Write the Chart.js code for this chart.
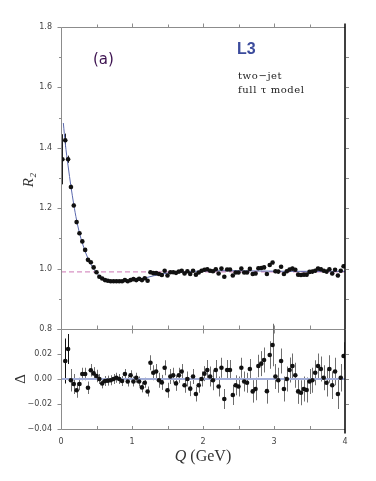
<!DOCTYPE html>
<html><head><meta charset="utf-8">
<script src="https://cdn.jsdelivr.net/npm/chart.js@4/dist/chart.umd.min.js"></script>
<style>
html,body{margin:0;padding:0;background:#fff;}
#wrap{position:relative;width:376px;height:481px;overflow:hidden;}
canvas{position:absolute;left:0;top:0;}
</style></head><body>
<div id="wrap"><canvas id="cTop" width="376" height="481"></canvas><canvas id="cBot" width="376" height="481"></canvas></div>
<script>
// ---------------- data ----------------
const qBins = [0.02,0.06,0.10,0.14,0.18,0.22,0.26,0.30,0.34,0.38,0.42,0.46,0.50,0.54,0.58,0.62,0.66,0.70,0.74,0.78,
0.82,0.86,0.90,0.94,0.98,1.02,1.06,1.10,1.14,1.18,1.22,1.26,1.30,1.34,1.38,1.42,1.46,1.50,1.54,1.58,
1.62,1.66,1.70,1.74,1.78,1.82,1.86,1.90,1.94,1.98,2.02,2.06,2.10,2.14,2.18,2.22,2.26,2.30,2.34,2.38,
2.42,2.46,2.50,2.54,2.58,2.62,2.66,2.70,2.74,2.78,2.82,2.86,2.90,2.94,2.98,3.02,3.06,3.10,3.14,3.18,
3.22,3.26,3.30,3.34,3.38,3.42,3.46,3.50,3.54,3.58,3.62,3.66,3.70,3.74,3.78,3.82,3.86,3.90,3.94,3.98];

const r2Values = [1.362,1.425,1.362,1.270,1.209,1.154,1.117,1.090,1.062,1.029,1.021,1.004,0.988,0.973,0.967,0.962,0.960,0.958,0.958,0.958,
0.958,0.958,0.962,0.958,0.962,0.965,0.962,0.966,0.962,0.968,0.960,0.988,0.985,0.985,0.982,0.979,0.993,0.977,0.988,0.988,
0.986,0.990,0.993,0.984,0.991,0.982,0.993,0.980,0.987,0.993,0.996,0.998,0.993,0.991,0.998,0.984,1.000,0.973,0.997,0.997,
0.977,0.987,0.987,1.000,0.987,0.987,0.999,0.982,0.984,1.001,1.002,1.004,0.982,1.012,1.020,0.991,0.990,1.006,0.982,0.991,
0.997,1.000,0.996,0.980,0.979,0.980,0.980,0.989,0.990,0.993,1.000,0.998,0.993,0.990,0.998,0.984,0.996,0.977,0.993,1.008];

const r2Errors = [0.083,0.022,0.012,0.008,0.006,0.005,0.004,0.003,0.003,0.003,0.003,0.003,0.003,0.003,0.003,0.003,0.003,0.003,0.003,0.003,
0.003,0.003,0.003,0.003,0.003,0.003,0.003,0.003,0.003,0.003,0.003,0.005,0.005,0.005,0.005,0.005,0.005,0.005,0.005,0.005,
0.005,0.005,0.005,0.005,0.005,0.005,0.005,0.005,0.005,0.005,0.005,0.005,0.005,0.005,0.005,0.005,0.005,0.005,0.005,0.005,
0.005,0.005,0.005,0.005,0.005,0.005,0.005,0.006,0.006,0.006,0.006,0.006,0.006,0.006,0.006,0.006,0.006,0.006,0.006,0.006,
0.006,0.006,0.006,0.006,0.006,0.006,0.006,0.006,0.006,0.006,0.006,0.006,0.006,0.006,0.006,0.006,0.006,0.006,0.006,0.006];

// fitted curve
const fitQ  = [0.033,0.06,0.10,0.14,0.18,0.22,0.26,0.30,0.34,0.38,0.42,0.46,0.50,0.54,0.58,0.62,0.70,0.80,0.90,1.00,1.10,1.20,1.30,1.40,1.50,1.60,1.80,2.00,2.40,2.80,3.20,3.60,4.00];
const fitR2 = [1.482,1.415,1.340,1.272,1.212,1.160,1.118,1.085,1.057,1.034,1.015,0.999,0.986,0.976,0.968,0.963,0.959,0.958,0.959,0.962,0.966,0.970,0.976,0.981,0.985,0.987,0.990,0.992,0.993,0.992,0.991,0.991,0.991];
const baselineQ  = [0, 4];
const baselineR2 = [0.989, 0.989];

const deltaValues = [null,0.0144,0.024,-0.001,-0.004,-0.009,-0.004,0.004,0.004,-0.007,0.007,0.0045,0.0024,0.0,-0.0035,-0.0016,-0.0013,-0.001,0.0,0.001,
0.0,-0.0016,0.004,-0.002,0.003,-0.002,0.001,-0.002,-0.0067,-0.003,-0.010,0.013,0.005,0.006,-0.001,-0.0027,0.009,-0.009,0.002,0.003,
-0.0035,0.003,0.006,-0.005,0.0,-0.0077,0.002,-0.012,-0.005,0.0,0.0043,0.0072,0.002,-0.001,0.0072,-0.006,0.009,-0.016,0.0072,0.0072,
-0.0128,-0.005,-0.006,0.009,-0.002,-0.003,0.008,-0.0099,-0.008,0.0104,0.0123,0.0152,-0.0097,0.0192,0.0272,0.002,-0.001,0.0144,-0.008,0.0,
0.0072,0.0104,0.003,-0.0099,-0.011,-0.008,-0.0088,-0.002,-0.001,0.005,0.0104,0.008,0.001,-0.003,0.008,-0.005,0.006,-0.012,0.001,0.0184];

const deltaErrors = [null,0.018,0.012,0.009,0.008,0.006,0.005,0.005,0.005,0.005,0.005,0.005,0.005,0.004,0.004,0.004,0.004,0.004,0.004,0.004,
0.004,0.004,0.004,0.004,0.004,0.004,0.004,0.004,0.004,0.004,0.004,0.006,0.006,0.006,0.006,0.006,0.006,0.006,0.006,0.006,
0.006,0.006,0.006,0.006,0.006,0.006,0.006,0.006,0.006,0.006,0.006,0.008,0.008,0.008,0.008,0.008,0.008,0.008,0.008,0.008,
0.008,0.008,0.008,0.008,0.008,0.008,0.008,0.009,0.009,0.009,0.010,0.010,0.010,0.011,0.017,0.010,0.010,0.010,0.010,0.010,
0.010,0.010,0.010,0.010,0.010,0.010,0.010,0.010,0.010,0.010,0.010,0.010,0.010,0.011,0.011,0.011,0.011,0.012,0.011,0.011];

const qTickValues = [0,0.5,1,1.5,2,2.5,3,3.5,4];
const zeroLineQ = [0, 4];
const zeroLineDelta = [0, 0];

// ---------------- helpers ----------------
const AXIS_GRAY = '#8c8c8c';
const TICK_FONT = {family:'DejaVu Sans', size:8};
const TICK_COLOR = '#444';
const pts = (xs, ys) => xs.map((x,i)=>({x, y: ys[i]})).filter(p=>p.y!==null);

function seg(ctx,x1,y1,x2,y2){ctx.beginPath();ctx.moveTo(x1,y1);ctx.lineTo(x2,y2);ctx.stroke();}

function errorBars(values, errors, colorFn){
  return {
    id:'errorBars',
    beforeDatasetsDraw(chart){
      const {ctx, scales:{x,y}} = chart;
      ctx.save(); ctx.lineWidth = 1;
      qBins.forEach((q,i)=>{
        const v = values[i], e = errors[i];
        if (v===null || e===null) return;
        const px = Math.round(x.getPixelForValue(q))+0.5;
        ctx.strokeStyle = colorFn(i);
        seg(ctx, px, y.getPixelForValue(v-e), px, y.getPixelForValue(v+e));
      });
      ctx.restore();
    }
  };
}

const isMajor = (v, step) => Math.abs(Math.round(v/step)*step - v) < 1e-6;
const hiddenGrid = {display:false, drawTicks:false, tickLength:0};

// ---------------- upper panel ----------------
const framesTop = {
  id:'framesTop',
  afterDraw(chart){
    const {ctx, chartArea:a, scales:{x,y}} = chart;
    ctx.save();
    ctx.strokeStyle = AXIS_GRAY; ctx.lineWidth = 1;
    const L = a.left+0.5, T = Math.round(a.top)+0.5, B = Math.round(a.bottom)+0.5, R = a.right;
    seg(ctx, L, T, L, B);
    seg(ctx, L, T, R, T);
    seg(ctx, L, B, R, B);
    y.ticks.forEach(t=>{
      const py = Math.round(y.getPixelForValue(t.value))+0.5;
      seg(ctx, L-(isMajor(t.value,0.2)?4:2.5), py, L, py);
      if (t.value > 0.85 && t.value < 1.75) seg(ctx, R+1, py, R+4, py);
    });
    qTickValues.forEach(q=>{
      const px = Math.round(x.getPixelForValue(q))+0.5;
      const maj = isMajor(q,1);
      if (q>0 && q<4){
        seg(ctx, px, T-(maj?4:3), px, T);
        seg(ctx, px, B-4, px, maj?B+4:B);
      }
    });
    ctx.strokeStyle = '#000'; ctx.lineWidth = 1.5;
    seg(ctx, R, T-4, R, B);
    // annotations
    ctx.textBaseline = 'alphabetic'; ctx.textAlign = 'left';
    ctx.fillStyle = '#3d1250';
    ctx.font = '15px "DejaVu Sans"';
    ctx.fillText('(a)', 93, 64);
    ctx.fillStyle = '#3b4b9c';
    ctx.font = 'bold 16px "Liberation Sans"';
    ctx.fillText('L3', 237, 54);
    ctx.fillStyle = '#222';
    ctx.font = '10px "DejaVu Serif"';
    ctx.letterSpacing = '0.6px';
    ctx.fillText('two\u2212jet', 238, 79);
    ctx.fillText('full \u03C4 model', 238, 93);
    ctx.letterSpacing = '0px';
    // y title
    ctx.save();
    ctx.translate(33, 180); ctx.rotate(-Math.PI/2);
    ctx.textAlign = 'center'; ctx.fillStyle = '#333';
    ctx.font = 'italic 15px "Liberation Serif"';
    ctx.fillText('R\u2082', 0, 0);
    ctx.restore();
    ctx.restore();
  }
};

new Chart(document.getElementById('cTop'), {
  type:'scatter',
  data:{datasets:[
    {type:'line', data:pts(baselineQ, baselineR2), borderColor:'#d892c4', borderWidth:1.2, borderDash:[5,3], pointRadius:0, order:3},
    {type:'line', data:pts(fitQ, fitR2), borderColor:'#5a68ad', borderWidth:1, pointRadius:0, cubicInterpolationMode:'monotone', order:2},
    {data:pts(qBins, r2Values), backgroundColor:'#111', borderWidth:0, pointRadius:2.3, order:1}
  ]},
  options:{
    responsive:false, animation:false, devicePixelRatio:1,
    layout:{padding:{left:0,right:31,top:27,bottom:152}},
    plugins:{legend:{display:false}, tooltip:{enabled:false}},
    scales:{
      x:{type:'linear', min:0, max:4, display:false},
      y:{type:'linear', min:0.8, max:1.8,
         afterFit(s){ s.width = 61; },
         grid:hiddenGrid, border:{display:false},
         ticks:{stepSize:0.1, padding:9, color:TICK_COLOR, font:TICK_FONT,
           callback:(v)=> isMajor(v,0.2) ? v.toFixed(1) : ''}}
    }
  },
  plugins:[errorBars(r2Values, r2Errors, ()=> '#222'), framesTop]
});

// ---------------- lower panel ----------------
const framesBot = {
  id:'framesBot',
  afterDraw(chart){
    const {ctx, chartArea:a, scales:{x,y}} = chart;
    ctx.save();
    ctx.strokeStyle = AXIS_GRAY; ctx.lineWidth = 1;
    const L = a.left+0.5, T = Math.round(a.top)+0.5, B = Math.round(a.bottom)+0.5, R = a.right;
    seg(ctx, L, T, L, B);
    seg(ctx, L, B, R, B);
    y.ticks.forEach(t=>{
      const py = Math.round(y.getPixelForValue(t.value))+0.5;
      seg(ctx, L-(isMajor(t.value,0.02)?4:2.5), py, L, py);
      if (t.value > -0.035 && t.value < 0.035) seg(ctx, R+1, py, R+4, py);
    });
    qTickValues.forEach(q=>{
      const px = Math.round(x.getPixelForValue(q))+0.5;
      if (q>0 && q<4) seg(ctx, px, B-3.5, px, B);
    });
    ctx.strokeStyle = '#000'; ctx.lineWidth = 1.5;
    seg(ctx, R, T, R, B+4);
    // y title
    ctx.save();
    ctx.translate(25, 379); ctx.rotate(-Math.PI/2);
    ctx.textAlign = 'center'; ctx.fillStyle = '#333';
    ctx.font = '15px "Liberation Serif"';
    ctx.fillText('\u0394', 0, 0);
    ctx.restore();
    // x title
    ctx.fillStyle = '#333'; ctx.textAlign = 'left';
    ctx.font = 'italic 16px "Liberation Serif"';
    const w1 = ctx.measureText('Q').width;
    ctx.font = '16px "Liberation Serif"';
    const w2 = ctx.measureText(' (GeV)').width;
    const x0 = (a.left + a.right)/2 - (w1+w2)/2;
    ctx.font = 'italic 16px "Liberation Serif"';
    ctx.fillText('Q', x0, 461);
    ctx.font = '16px "Liberation Serif"';
    ctx.fillText(' (GeV)', x0+w1, 461);
    ctx.restore();
  }
};

new Chart(document.getElementById('cBot'), {
  type:'scatter',
  data:{datasets:[
    {type:'line', data:pts(zeroLineQ, zeroLineDelta), borderColor:'#a3aed8', borderWidth:2, pointRadius:0, order:2},
    {data:pts(qBins, deltaValues), backgroundColor:'#111', borderWidth:0, pointRadius:2.3, order:1}
  ]},
  options:{
    responsive:false, animation:false, devicePixelRatio:1,
    layout:{padding:{left:0,right:31,top:329,bottom:0}},
    plugins:{legend:{display:false}, tooltip:{enabled:false}},
    scales:{
      x:{type:'linear', min:0, max:4,
         afterFit(s){ s.height = 52; },
         grid:hiddenGrid, border:{display:false},
         ticks:{stepSize:0.5, padding:8, color:TICK_COLOR, font:TICK_FONT, maxRotation:0, autoSkip:false,
           callback:(v)=> isMajor(v,1) ? String(Math.round(v)) : ''}},
      y:{type:'linear', min:-0.04, max:0.04,
         afterFit(s){ s.width = 61; },
         grid:hiddenGrid, border:{display:false},
         ticks:{stepSize:0.01, padding:9, color:TICK_COLOR, font:TICK_FONT,
           callback:(v)=> (isMajor(v,0.02) && v < 0.035) ? (v<-1e-9 ? '\u2212' : '') + Math.abs(v).toFixed(2) : ''}}
    }
  },
  plugins:[errorBars(deltaValues, deltaErrors, (i)=> i<3 ? '#111' : '#6e6e6e'), framesBot]
});
</script>
</body></html>
